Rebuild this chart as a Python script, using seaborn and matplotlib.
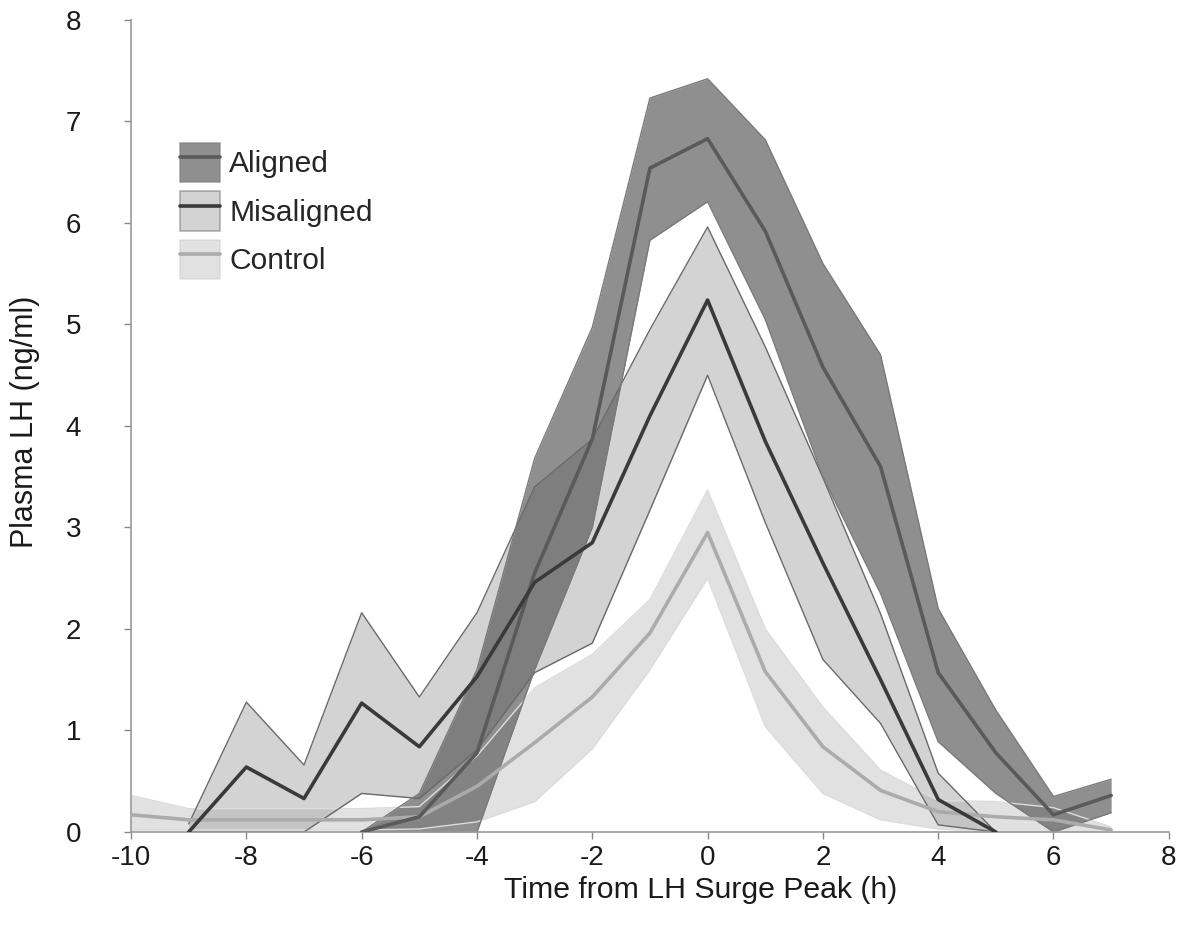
import matplotlib
matplotlib.use("Agg")
import matplotlib.pyplot as plt
import seaborn as sns
import pandas as pd
import numpy as np
from matplotlib.patches import Patch
from matplotlib.lines import Line2D

# ---- data ----
t_aligned = [-6, -5, -4, -3, -2, -1, 0, 1, 2, 3, 4, 5, 6, 7]
aligned_mean = [0.0, 0.15, 0.78, 2.55, 3.87, 6.54, 6.83, 5.92, 4.58, 3.60, 1.57, 0.78, 0.17, 0.36]
aligned_upper = [0.0, 0.38, 1.60, 3.68, 4.97, 7.23, 7.42, 6.82, 5.60, 4.70, 2.20, 1.20, 0.35, 0.52]
aligned_lower = [0.0, 0.0, 0.0, 1.60, 3.00, 5.83, 6.21, 5.05, 3.50, 2.35, 0.89, 0.38, 0.0, 0.19]

t_mis = [-9, -8, -7, -6, -5, -4, -3, -2, -1, 0, 1, 2, 3, 4, 5]
mis_mean = [0.0, 0.64, 0.33, 1.27, 0.84, 1.53, 2.46, 2.85, 4.10, 5.24, 3.85, 2.65, 1.50, 0.32, 0.0]
mis_upper = [0.08, 1.28, 0.66, 2.16, 1.33, 2.16, 3.40, 3.87, 4.95, 5.96, 4.78, 3.49, 2.15, 0.58, 0.0]
mis_lower = [0.0, 0.0, 0.0, 0.38, 0.33, 0.81, 1.57, 1.86, 3.17, 4.50, 3.05, 1.70, 1.07, 0.07, 0.0]

t_ctrl = [-10, -9, -8, -7, -6, -5, -4, -3, -2, -1, 0, 1, 2, 3, 4, 5, 6, 7]
ctrl_mean = [0.17, 0.12, 0.12, 0.12, 0.12, 0.15, 0.45, 0.88, 1.33, 1.96, 2.95, 1.58, 0.84, 0.41, 0.20, 0.15, 0.12, 0.02]
ctrl_upper = [0.36, 0.23, 0.23, 0.23, 0.23, 0.25, 0.75, 1.42, 1.75, 2.29, 3.37, 2.00, 1.23, 0.61, 0.31, 0.30, 0.24, 0.05]
ctrl_lower = [0.02, 0.02, 0.02, 0.02, 0.02, 0.03, 0.10, 0.30, 0.82, 1.60, 2.50, 1.04, 0.38, 0.12, 0.03, 0.0, 0.0, 0.0]

groups = ["Aligned", "Misaligned", "Control"]
x_ticks = [-10, -8, -6, -4, -2, 0, 2, 4, 6, 8]
y_ticks = [0, 1, 2, 3, 4, 5, 6, 7, 8]

# ---- styling ----
sns.set_style("ticks")
plt.rcParams['font.family'] = ['Liberation Sans', 'DejaVu Sans']

fill_col = {"Aligned": "#4a4a4a", "Misaligned": "#a8a8a8", "Control": "#c4c4c4"}
fill_alpha = {"Aligned": 0.62, "Misaligned": 0.5, "Control": 0.5}
edge_col = {"Aligned": "#7a7a7a", "Misaligned": "#6a6a6a", "Control": "#dcdcdc"}
line_col = {"Aligned": "#5a5a5a", "Misaligned": "#3a3a3a", "Control": "#ababab"}

fig = plt.figure(figsize=(11.86, 9.26), dpi=100)
ax = fig.add_axes([0.1105, 0.1015, 0.875, 0.877])

bands = {
    "Control": (t_ctrl, ctrl_lower, ctrl_upper),
    "Misaligned": (t_mis, mis_lower, mis_upper),
    "Aligned": (t_aligned, aligned_lower, aligned_upper),
}
for g in ["Control", "Misaligned", "Aligned"]:
    t, lo, hi = bands[g]
    ax.fill_between(t, lo, hi, color=fill_col[g], alpha=fill_alpha[g], linewidth=0, zorder=1)
for g in ["Control", "Misaligned", "Aligned"]:
    t, lo, hi = bands[g]
    ax.plot(t, lo, color=edge_col[g], lw=1.0, zorder=2)
    ax.plot(t, hi, color=edge_col[g], lw=1.0, zorder=2)

df = pd.concat([
    pd.DataFrame({"t": t_aligned, "LH": aligned_mean, "group": "Aligned"}),
    pd.DataFrame({"t": t_mis, "LH": mis_mean, "group": "Misaligned"}),
    pd.DataFrame({"t": t_ctrl, "LH": ctrl_mean, "group": "Control"}),
])
sns.lineplot(data=df, x="t", y="LH", hue="group", hue_order=["Control", "Aligned", "Misaligned"],
             palette=line_col, linewidth=2.6, legend=False, ax=ax, zorder=3, sort=False,
             estimator=None)

ax.set_xlim(-10, 8)
ax.set_ylim(0, 8)
ax.set_xticks(x_ticks)
ax.set_yticks(y_ticks)
ax.set_xticklabels([str(v) for v in x_ticks])
ax.set_yticklabels([str(v) for v in y_ticks])
ax.tick_params(axis='both', labelsize=20, colors='#888888', labelcolor='#1a1a1a',
               length=5, width=1)
ax.tick_params(axis='x', pad=4)
ax.tick_params(axis='y', pad=31)
for s in ["top", "right"]:
    ax.spines[s].set_visible(False)
for s in ["left", "bottom"]:
    ax.spines[s].set_color("#999999")
    ax.spines[s].set_linewidth(1.2)
ax.set_xlabel("Time from LH Surge Peak (h)", fontsize=21.8, color="#1a1a1a")
ax.set_ylabel("Plasma LH (ng/ml)", fontsize=22, color="#1a1a1a")
ax.xaxis.set_label_coords(0.549, -0.054)
ax.yaxis.set_label_coords(-0.088, 0.505)

handles = []
for g in groups:
    p = Patch(facecolor=fill_col[g], alpha=fill_alpha[g],
              edgecolor=edge_col[g] if g != "Control" else "#cccccc", linewidth=1.2)
    ln = Line2D([], [], color=line_col[g], lw=2.6)
    handles.append((p, ln))
leg = ax.legend(handles, groups, loc="upper left", bbox_to_anchor=(0.047, 0.849),
                fontsize=21.6, frameon=False, handlelength=1.35, handleheight=1.65,
                handletextpad=0.3, labelspacing=0.3, borderaxespad=0, borderpad=0)

fig.savefig("out.png", dpi=100)
